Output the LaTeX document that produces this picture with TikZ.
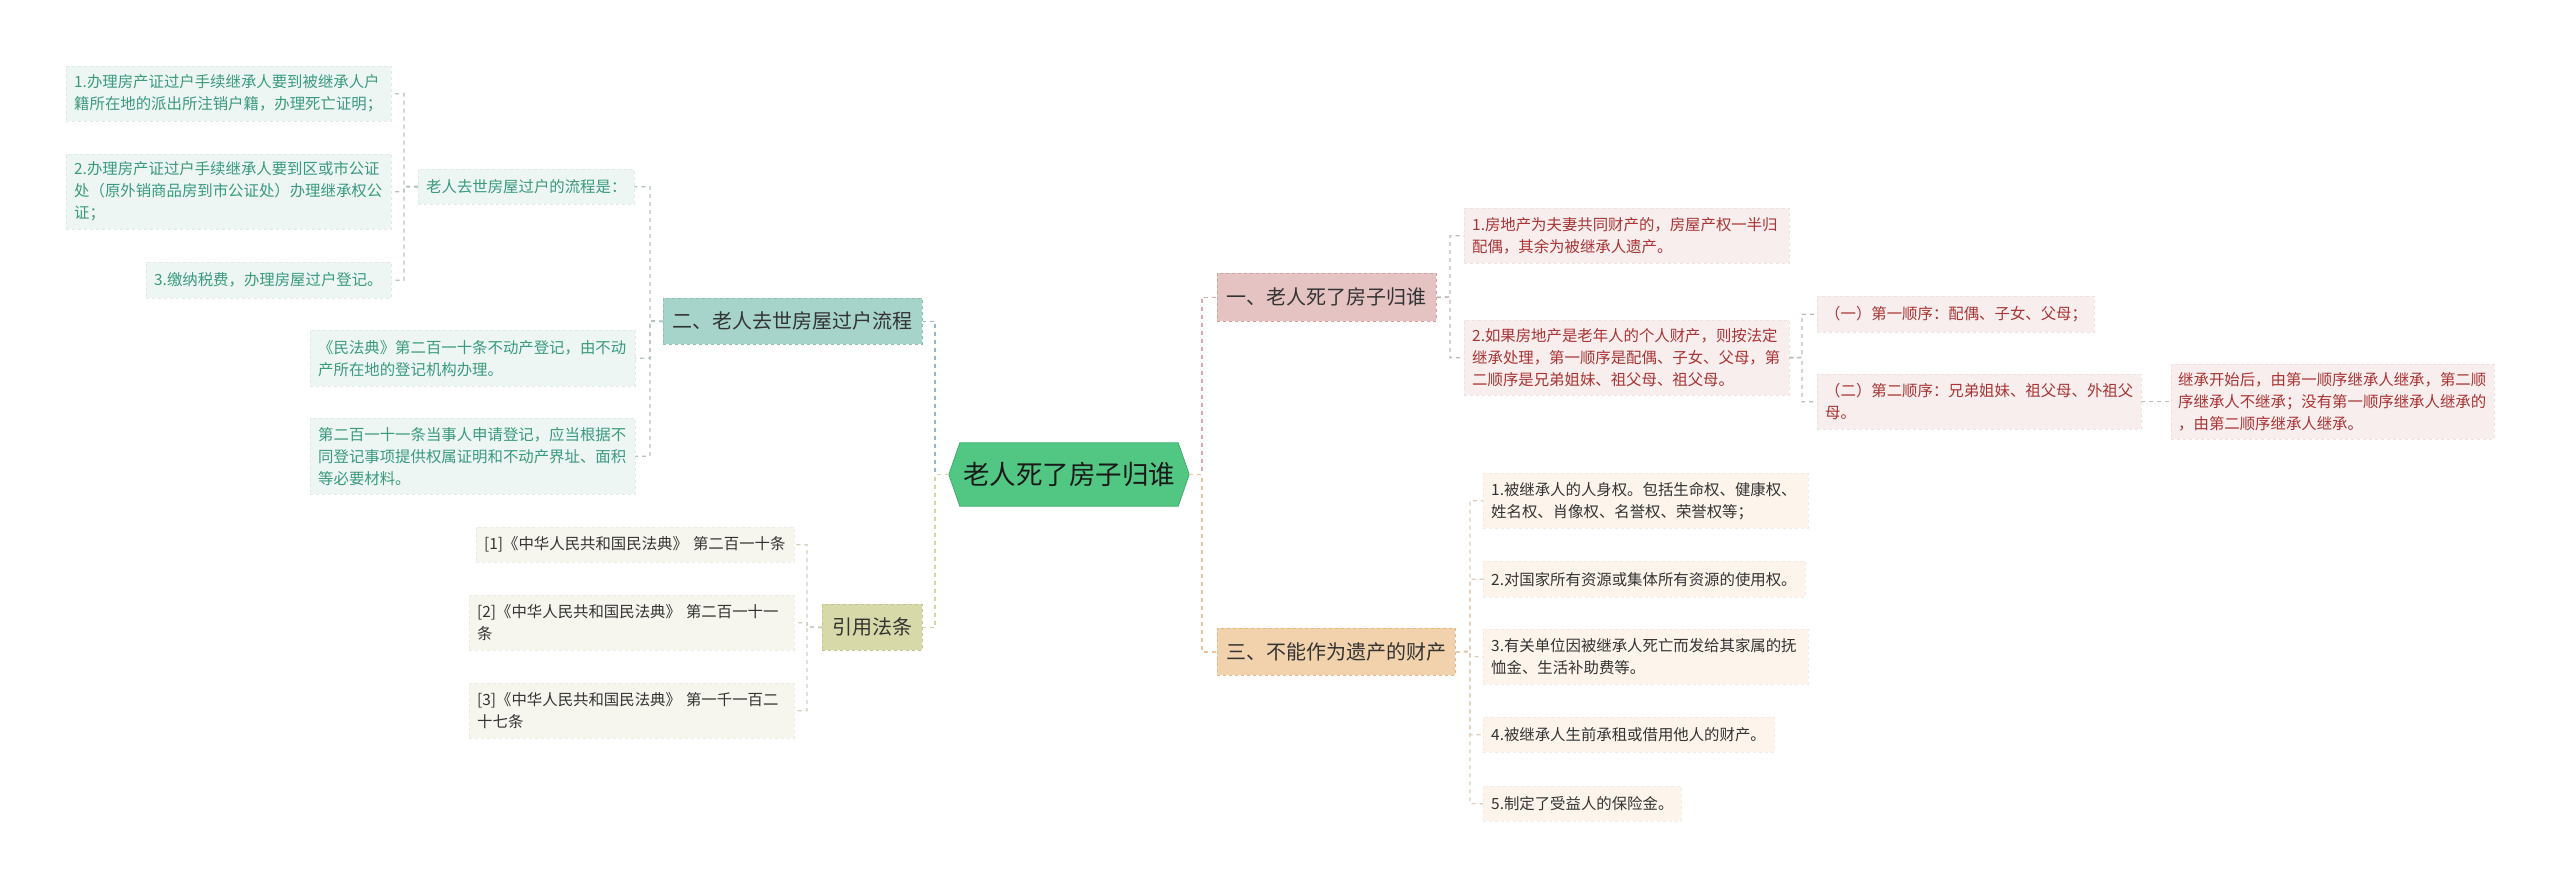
\documentclass[tikz,border=0pt]{standalone}
\usepackage{fontspec}
\newfontfamily\cjk{Noto Sans CJK SC}
\usetikzlibrary{backgrounds}
\definecolor{mainfill}{HTML}{52C783}
\definecolor{maindraw}{HTML}{3FAE6C}
\definecolor{bAfill}{HTML}{E6C3C3}\definecolor{bAdraw}{HTML}{D2A3A3}
\definecolor{bBfill}{HTML}{A7D4CA}\definecolor{bBdraw}{HTML}{8CC0B3}
\definecolor{bCfill}{HTML}{F2D2AC}\definecolor{bCdraw}{HTML}{E2B888}
\definecolor{bDfill}{HTML}{D7D9A9}\definecolor{bDdraw}{HTML}{C2C58D}
\definecolor{lAfill}{HTML}{F8EEEE}\definecolor{lAtext}{HTML}{A93434}
\definecolor{lBfill}{HTML}{EDF6F3}\definecolor{lBtext}{HTML}{3A9A7E}
\definecolor{lCfill}{HTML}{FDF5EC}
\definecolor{lDfill}{HTML}{F6F6EE}
\definecolor{dtext}{HTML}{333333}
\definecolor{cA}{HTML}{D9A9B2}\definecolor{cB}{HTML}{8DBDC4}
\definecolor{cC}{HTML}{EDC49A}\definecolor{cD}{HTML}{D4D4A0}
\definecolor{cAl}{HTML}{C9B6B6}\definecolor{cBl}{HTML}{B3C4C0}
\definecolor{cCl}{HTML}{E2CCB4}\definecolor{cDl}{HTML}{D0D0BC}
\begin{document}
\begin{tikzpicture}[x=1pt,y=-1pt,
  conn/.style={dashed, dash pattern=on 4pt off 4pt, line width=1.4pt},
  leaf/.style={anchor=north west, inner xsep=8pt, inner ysep=0pt, align=left,
    font=\cjk\fontsize{15.4}{22}\selectfont},
  leafA/.style={leaf, fill=lAfill, draw=lAfill!95!black, dashed, text=lAtext},
  leafB/.style={leaf, fill=lBfill, draw=lBfill!95!black, dashed, text=lBtext},
  leafC/.style={leaf, fill=lCfill, draw=lCfill!96!black, dashed, text=dtext},
  leafD/.style={leaf, fill=lDfill, draw=lDfill!96!black, dashed, text=dtext},
  branch/.style={anchor=north west, inner sep=0pt, align=center, dashed, line width=0.8pt,
    font=\cjk\fontsize{20}{24}\selectfont, text=dtext},
  brA/.style={branch, fill=bAfill, draw=bAdraw},
  brB/.style={branch, fill=bBfill, draw=bBdraw},
  brC/.style={branch, fill=bCfill, draw=bCdraw},
  brD/.style={branch, fill=bDfill, draw=bDdraw},
]
\useasboundingbox (0,0) rectangle (2560,887);

% ---- main node ----
\node[inner sep=0pt, minimum width=240pt, minimum height=63pt,
  font=\cjk\fontsize{26.5}{30}\selectfont, text=black!90] (main) at (1069,474.5) {老人死了房子归谁};
\begin{scope}[on background layer]
\fill[white] (0,0) rectangle (2560,887);
\path[fill=mainfill, draw=maindraw, line width=0.8pt]
  (main.west) -- ([xshift=11pt]main.north west) -- ([xshift=-11pt]main.north east)
  -- (main.east) -- ([xshift=-11pt]main.south east) -- ([xshift=11pt]main.south west) -- cycle;
\end{scope}

% ---- branches ----
\node[brA, minimum width=219pt, minimum height=48pt] (b1) at (1217,273) {一、老人死了房子归谁};
\node[brB, minimum width=259pt, minimum height=46pt] (b2) at (663,298) {二、老人去世房屋过户流程};
\node[brC, minimum width=238pt, minimum height=47pt] (b3) at (1217,628) {三、不能作为遗产的财产};
\node[brD, minimum width=100pt, minimum height=46pt] (b4) at (822,604) {引用法条};

% ---- branch 2 (left, top) ----
\node[leafB, minimum width=216pt, minimum height=35pt, text width=200pt] (flow) at (418,169) {老人去世房屋过户的流程是：};
\node[leafB, minimum width=325pt, minimum height=55pt, text width=309pt] (l1) at (66,66)
  {1.办理房产证过户手续继承人要到被继承人户\\籍所在地的派出所注销户籍，办理死亡证明；};
\node[leafB, minimum width=325pt, minimum height=75pt, text width=309pt] (l2) at (66,154)
  {2.办理房产证过户手续继承人要到区或市公证\\处（原外销商品房到市公证处）办理继承权公\\证；};
\node[leafB, minimum width=245pt, minimum height=36pt, text width=229pt] (l3) at (146,262)
  {3.缴纳税费，办理房屋过户登记。};
\node[leafB, minimum width=325pt, minimum height=56pt, text width=309pt] (m1) at (310,330)
  {《民法典》第二百一十条不动产登记，由不动\\产所在地的登记机构办理。};
\node[leafB, minimum width=325pt, minimum height=76pt, text width=309pt] (m2) at (310,418)
  {第二百一十一条当事人申请登记，应当根据不\\同登记事项提供权属证明和不动产界址、面积\\等必要材料。};

% ---- branch 4 (left, bottom) ----
\node[leafD, minimum width=318pt, minimum height=35pt, text width=302pt] (c1) at (476,527)
  { [1]《中华人民共和国民法典》 第二百一十条};
\node[leafD, minimum width=325pt, minimum height=55pt, text width=309pt] (c2) at (469,595)
  {[2]《中华人民共和国民法典》 第二百一十一\\条};
\node[leafD, minimum width=325pt, minimum height=55pt, text width=309pt] (c3) at (469,683)
  {[3]《中华人民共和国民法典》 第一千一百二\\十七条};

% ---- branch 1 (right, top) ----
\node[leafA, minimum width=325pt, minimum height=55pt, text width=309pt] (r1) at (1464,208)
  {1.房地产为夫妻共同财产的，房屋产权一半归\\配偶，其余为被继承人遗产。};
\node[leafA, minimum width=325pt, minimum height=75pt, text width=309pt] (r2) at (1464,320)
  {2.如果房地产是老年人的个人财产，则按法定\\继承处理，第一顺序是配偶、子女、父母，第\\二顺序是兄弟姐妹、祖父母、祖父母。};
\node[leafA, minimum width=277pt, minimum height=36pt, text width=261pt] (r2a) at (1817,296)
  {（一）第一顺序：配偶、子女、父母；};
\node[leafA, minimum width=324pt, minimum height=55pt, text width=308pt] (r2b) at (1817,374)
  {（二）第二顺序：兄弟姐妹、祖父母、外祖父\\母。};
\node[leafA, minimum width=323pt, minimum height=75pt, text width=309pt, inner xsep=7pt] (r3) at (2171,364)
  {继承开始后，由第一顺序继承人继承，第二顺\\序继承人不继承；没有第一顺序继承人继承的\\，由第二顺序继承人继承。};

% ---- branch 3 (right, bottom) ----
\node[leafC, minimum width=325pt, minimum height=55pt, text width=309pt] (s1) at (1483,473)
  {1.被继承人的人身权。包括生命权、健康权、\\姓名权、肖像权、名誉权、荣誉权等；};
\node[leafC, minimum width=322pt, minimum height=36pt, text width=306pt] (s2) at (1483,561)
  {2.对国家所有资源或集体所有资源的使用权。};
\node[leafC, minimum width=325pt, minimum height=55pt, text width=309pt] (s3) at (1483,629)
  {3.有关单位因被继承人死亡而发给其家属的抚\\恤金、生活补助费等。};
\node[leafC, minimum width=291pt, minimum height=35pt, text width=275pt] (s4) at (1483,717)
  {4.被继承人生前承租或借用他人的财产。};
\node[leafC, minimum width=198pt, minimum height=35pt, text width=182pt] (s5) at (1483,786)
  {5.制定了受益人的保险金。};

% ---- junctions ----
\coordinate (jl) at (935,474.5);
\coordinate (jr) at (1202,474.5);
\coordinate (j1) at (1450,297);
\coordinate (j2) at (650,321);
\coordinate (j3) at (1470,651.5);
\coordinate (j4) at (807,627);
\coordinate (jf) at (404,186.5);
\coordinate (jr2) at (1802,357.5);

% ---- connectors ----
\draw[conn, cB] (main.west) -- (jl) |- (b2.east);
\draw[conn, cD] (main.west) -- (jl) |- (b4.east);
\draw[conn, cA] (main.east) -- (jr) |- (b1.west);
\draw[conn, cC] (main.east) -- (jr) |- (b3.west);

\foreach \t in {flow,m1,m2} \draw[conn, cBl] (b2.west) -- (j2) |- (\t.east);
\foreach \t in {l1,l2,l3} \draw[conn, cBl] (flow.west) -- (jf) |- (\t.east);
\foreach \t in {c1,c2,c3} \draw[conn, cDl] (b4.west) -- (j4) |- (\t.east);
\foreach \t in {r1,r2} \draw[conn, cAl] (b1.east) -- (j1) |- (\t.west);
\foreach \t in {r2a,r2b} \draw[conn, cAl] (r2.east) -- (jr2) |- (\t.west);
\draw[conn, cAl] (r2b.east) -- (r3.west);
\foreach \t in {s1,s2,s3,s4,s5} \draw[conn, cCl] (b3.east) -- (j3) |- (\t.west);
\end{tikzpicture}
\end{document}
